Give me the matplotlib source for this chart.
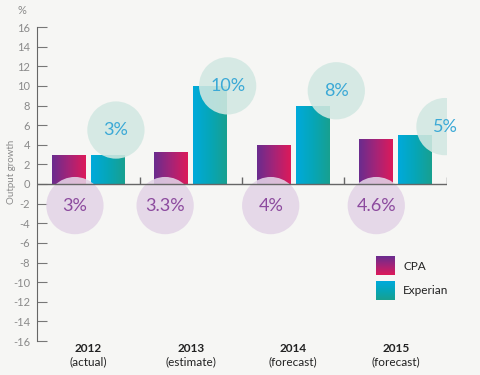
import numpy as np
import matplotlib
matplotlib.use("Agg")
import matplotlib.pyplot as plt
from matplotlib.colors import LinearSegmentedColormap

# Dados do gráfico
anos = ['2012', '2013', '2014', '2015']
tipos = ['(actual)', '(estimate)', '(forecast)', '(forecast)']
cpa = [3.0, 3.3, 4.0, 4.6]
experian = [3.0, 10.0, 8.0, 5.0]
cpa_rotulos = ['3%', '3.3%', '4%', '4.6%']
exp_rotulos = ['3%', '10%', '8%', '5%']

# posições dos círculos (layout)
cpa_circ_dx = [-0.13, -0.25, -0.22, -0.19]
cpa_circ_y = -2.2
exp_circ_dx = [0.27, 0.36, 0.42, 0.48]
exp_circ_y = [5.5, 10.0, 9.5, 5.85]

fundo = '#f6f6f4'
cmap_cpa = LinearSegmentedColormap.from_list('cpa', ['#6a2c8e', '#a42478', '#dc1a5a'])
cmap_exp = LinearSegmentedColormap.from_list('exp', ['#00aadb', '#06a6b8', '#18a090'])

plt.rcParams['font.family'] = ['Lato', 'DejaVu Sans']
plt.rcParams['axes.unicode_minus'] = False

fig = plt.figure(figsize=(4.8, 3.75), dpi=100, facecolor=fundo)
ax = fig.add_axes([37 / 480, 1 - 341 / 375, 410 / 480, 314 / 375])
ax.set_facecolor(fundo)

x = np.arange(len(anos))
larg = 0.33
gradiente = np.linspace(0, 1, 64).reshape(1, -1)


def barras_gradiente(xs, vals, cmap):
    bars = ax.bar(xs, vals, larg, color='none', edgecolor='none', zorder=2)
    for b in bars:
        x0, y0 = b.get_x(), b.get_y()
        w, h = b.get_width(), b.get_height()
        im = ax.imshow(gradiente, cmap=cmap, extent=[x0, x0 + w, y0, y0 + h],
                       aspect='auto', zorder=2, interpolation='bicubic')
        im.set_clip_path(b)


barras_gradiente(x - 0.19, cpa, cmap_cpa)
barras_gradiente(x + 0.19, experian, cmap_exp)

# círculos com rótulos
for i in range(len(anos)):
    cx = x[i] + cpa_circ_dx[i]
    ax.scatter(cx, cpa_circ_y, s=1700, color='#e3d4e7', alpha=0.88,
               edgecolors='none', zorder=3)
    ax.text(cx, cpa_circ_y, cpa_rotulos[i], ha='center', va='center',
            fontsize=13, color='#8c4a9e', zorder=4)
    ex = x[i] + exp_circ_dx[i]
    ax.scatter(ex, exp_circ_y[i], s=1700, color='#d2e8e2', alpha=0.88,
               edgecolors='none', zorder=3)
    ax.text(ex, exp_circ_y[i], exp_rotulos[i], ha='center', va='center',
            fontsize=13, color='#3ba9d6', zorder=4)

# eixo zero e marcas entre grupos
ax.plot([-0.5, 3.5], [0, 0], color='#666666', lw=1, zorder=5)
ax.vlines([0.5, 1.5, 2.5, 3.5], 0, 0.7, color='#666666', lw=1, zorder=5)

ax.set_xlim(-0.5, 3.5)
ax.set_ylim(-16, 16)
ax.set_yticks(np.arange(-16, 17, 2))
ax.set_xticks([])
ax.tick_params(axis='y', direction='in', length=7, color='#777777',
               labelcolor='#8a8a8a', labelsize=8, pad=5)
for s in ['top', 'right', 'bottom']:
    ax.spines[s].set_visible(False)
ax.spines['left'].set_color('#666666')

fig.text(22 / 480, 1 - 11 / 375, '%', color='#8a8a8a', fontsize=8,
         ha='center', va='center')
fig.text(12 / 480, 1 - 172 / 375, 'Output growth', color='#8a8a8a', fontsize=7,
         rotation=90, ha='center', va='center')

# rótulos do eixo x
for i in range(len(anos)):
    ax.text(x[i], -16.2, anos[i], ha='center', va='top', fontsize=8.5,
            fontweight='bold', color='#222222')
    ax.text(x[i], -17.6, tipos[i], ha='center', va='top', fontsize=8.5,
            color='#222222')

# legenda manual
vert = np.linspace(0, 1, 32).reshape(-1, 1)
for j, (nome, cm) in enumerate([('CPA', cmap_cpa), ('Experian', cmap_exp)]):
    y_top = 256 + j * 25
    lax = fig.add_axes([376 / 480, 1 - (y_top + 19) / 375, 19 / 480, 19 / 375])
    lax.imshow(vert, cmap=cm, aspect='auto', interpolation='bicubic')
    lax.axis('off')
    fig.text(403 / 480, 1 - (y_top + 10) / 375, nome, fontsize=8.5,
             color='#222222', ha='left', va='center')

fig.savefig('out.png', dpi=100, facecolor=fundo)
